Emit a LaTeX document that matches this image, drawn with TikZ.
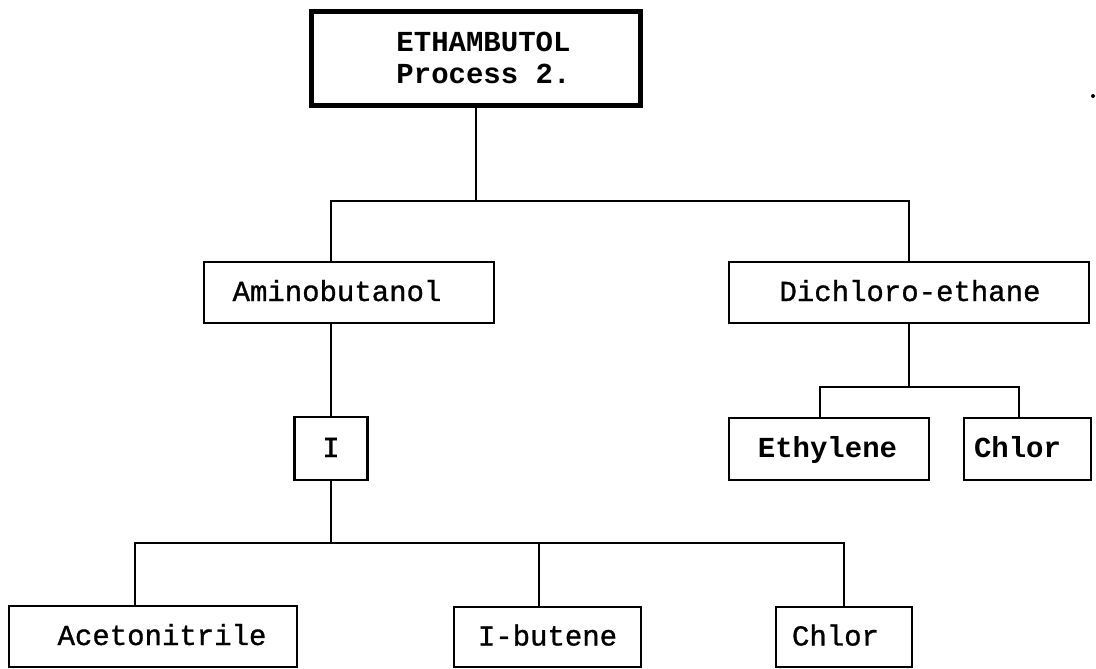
\documentclass[tikz,border=0pt]{standalone}
\usepackage{fontspec}
\setmonofont{Liberation Mono}
% a typewriter face with a slightly heavier stroke for the plain labels
\newfontfamily\medmono[FakeBold=1]{Liberation Mono}
\begin{document}
\begin{tikzpicture}[x=1pt,y=-1pt,
  box/.style={draw, line width=2.4pt, inner sep=0pt, rectangle},
  heavybox/.style={draw, line width=5pt, inner sep=0pt, rectangle},
  lbl/.style={font=\medmono\fontsize{29}{32}\selectfont, inner sep=0pt, text height=17pt, text depth=0pt},
  blbl/.style={lbl, font=\ttfamily\bfseries\fontsize{29}{32}\selectfont},
  link/.style={line width=2.4pt, line join=miter}]
\useasboundingbox (0,0) rectangle (1096,669);

% title box
\node[heavybox, minimum width=329pt, minimum height=94pt] (top) at (476,59) {};
\node[font=\ttfamily\bfseries\fontsize{29}{32}\selectfont, inner sep=0pt, align=left] (top-t) at (483.5,57.5) {ETHAMBUTOL\\Process 2.};

% second level
\node[box, minimum width=290pt, minimum height=61pt] (amino) at (349,292.5) {};
\node[lbl] (amino-t) at (337,292.5) {Aminobutanol};
\node[box, minimum width=360pt, minimum height=61pt] (dich) at (909,292.5) {};
\node[lbl] (dich-t) at (910,292.5) {Dichloro-ethane};

% third level
\node[box, minimum width=73pt, minimum height=63pt] (ibox) at (331,448.5) {};
\node[lbl] (ibox-t) at (331,448.5) {I};
\node[box, minimum width=200pt, minimum height=62pt] (ethy) at (829,449) {};
\node[blbl] (ethy-t) at (827.5,449) {Ethylene};
\node[box, minimum width=127pt, minimum height=62pt] (chl1) at (1027.5,449) {};
\node[blbl] (chl1-t) at (1017.5,449) {Chlor};

% bottom level
\node[box, minimum width=288pt, minimum height=61pt] (acet) at (153,636.5) {};
\node[lbl] (acet-t) at (162,636.5) {Acetonitrile};
\node[box, minimum width=187pt, minimum height=60pt] (ibut) at (547.5,637) {};
\node[lbl] (ibut-t) at (547.5,637) {I-butene};
\node[box, minimum width=136pt, minimum height=60pt] (chl2) at (844,637) {};
\node[lbl] (chl2-t) at (835.5,637) {Chlor};

% branch points
\coordinate (j1) at (476,201);
\coordinate (j2) at (331,543);
\coordinate (j3) at (909,387);

% connectors
\draw[link] (top.south) -- (j1);
\draw[link] ([xshift=-18pt]amino.north) |- (j1) -| (dich.north);
\draw[link] ([xshift=-18pt]amino.south) -- (ibox.north);
\draw[link] (ibox.south) -- (j2);
\draw[link] ([xshift=-18pt]acet.north) |- (j2) -| (chl2.north);
\draw[link] ([xshift=-8.5pt]ibut.north) -- ([xshift=-8.5pt]ibut.north |- j2);
\draw[link] (dich.south) -- (j3);
\draw[link] ([xshift=-9pt]ethy.north) |- (j3) -| ([xshift=-8.5pt]chl1.north);

% small mark at the right margin
\fill (1093,96) circle (2pt);
\end{tikzpicture}
\end{document}
